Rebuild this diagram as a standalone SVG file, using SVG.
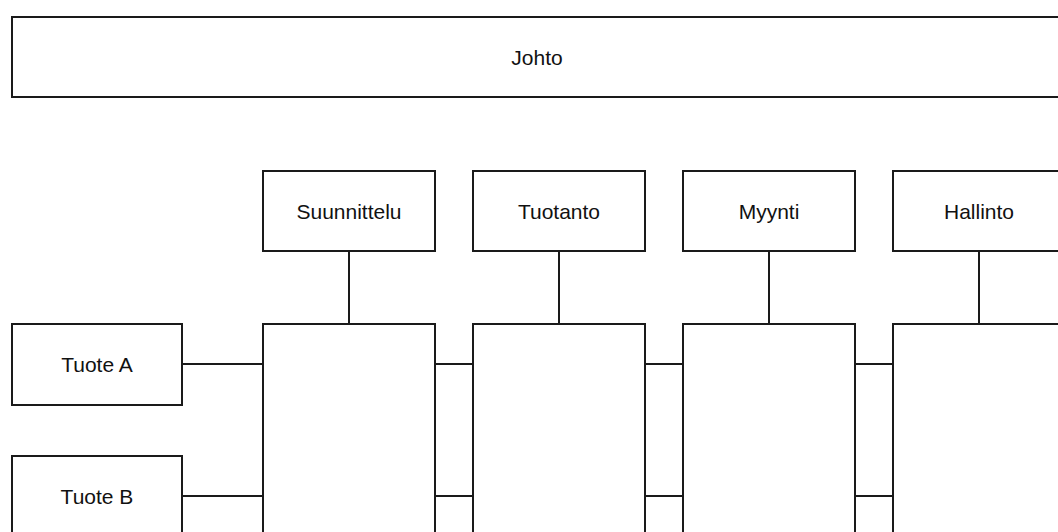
<svg xmlns="http://www.w3.org/2000/svg" width="1058" height="532" viewBox="0 0 1058 532">
  <style>
    .box { fill: #ffffff; stroke: #1a1a1a; stroke-width: 2; }
    .link { stroke: #1a1a1a; stroke-width: 2; fill: none; }
    .label { font-family: "Liberation Sans", Arial, sans-serif; font-size: 21px; fill: #111111; text-anchor: middle; }
  </style>
  <rect width="1058" height="532" fill="#ffffff"/>

  <!-- connectors -->
  <g id="connectors">
    <line class="link" x1="349" y1="251" x2="349" y2="324"/>
    <line class="link" x1="559" y1="251" x2="559" y2="324"/>
    <line class="link" x1="769" y1="251" x2="769" y2="324"/>
    <line class="link" x1="979" y1="251" x2="979" y2="324"/>
    <line class="link" x1="182" y1="364" x2="263" y2="364"/>
    <line class="link" x1="182" y1="496" x2="263" y2="496"/>
    <line class="link" x1="435" y1="364" x2="473" y2="364"/>
    <line class="link" x1="435" y1="496" x2="473" y2="496"/>
    <line class="link" x1="645" y1="364" x2="683" y2="364"/>
    <line class="link" x1="645" y1="496" x2="683" y2="496"/>
    <line class="link" x1="855" y1="364" x2="893" y2="364"/>
    <line class="link" x1="855" y1="496" x2="893" y2="496"/>
  </g>

  <g id="johto">
    <rect class="box" x="12" y="17" width="1056" height="80"/>
    <text class="label" x="537" y="65">Johto</text>
  </g>

  <g id="suunnittelu">
    <rect class="box" x="263" y="171" width="172" height="80"/>
    <text class="label" x="349" y="219">Suunnittelu</text>
  </g>
  <g id="tuotanto">
    <rect class="box" x="473" y="171" width="172" height="80"/>
    <text class="label" x="559" y="219">Tuotanto</text>
  </g>
  <g id="myynti">
    <rect class="box" x="683" y="171" width="172" height="80"/>
    <text class="label" x="769" y="219">Myynti</text>
  </g>
  <g id="hallinto">
    <rect class="box" x="893" y="171" width="172" height="80"/>
    <text class="label" x="979" y="219">Hallinto</text>
  </g>

  <g id="suunnittelu-alue">
    <rect class="box" x="263" y="324" width="172" height="240"/>
  </g>
  <g id="tuotanto-alue">
    <rect class="box" x="473" y="324" width="172" height="240"/>
  </g>
  <g id="myynti-alue">
    <rect class="box" x="683" y="324" width="172" height="240"/>
  </g>
  <g id="hallinto-alue">
    <rect class="box" x="893" y="324" width="172" height="240"/>
  </g>

  <g id="tuote-a">
    <rect class="box" x="12" y="324" width="170" height="81"/>
    <text class="label" x="97" y="372">Tuote A</text>
  </g>
  <g id="tuote-b">
    <rect class="box" x="12" y="456" width="170" height="100"/>
    <text class="label" x="97" y="504">Tuote B</text>
  </g>
</svg>
